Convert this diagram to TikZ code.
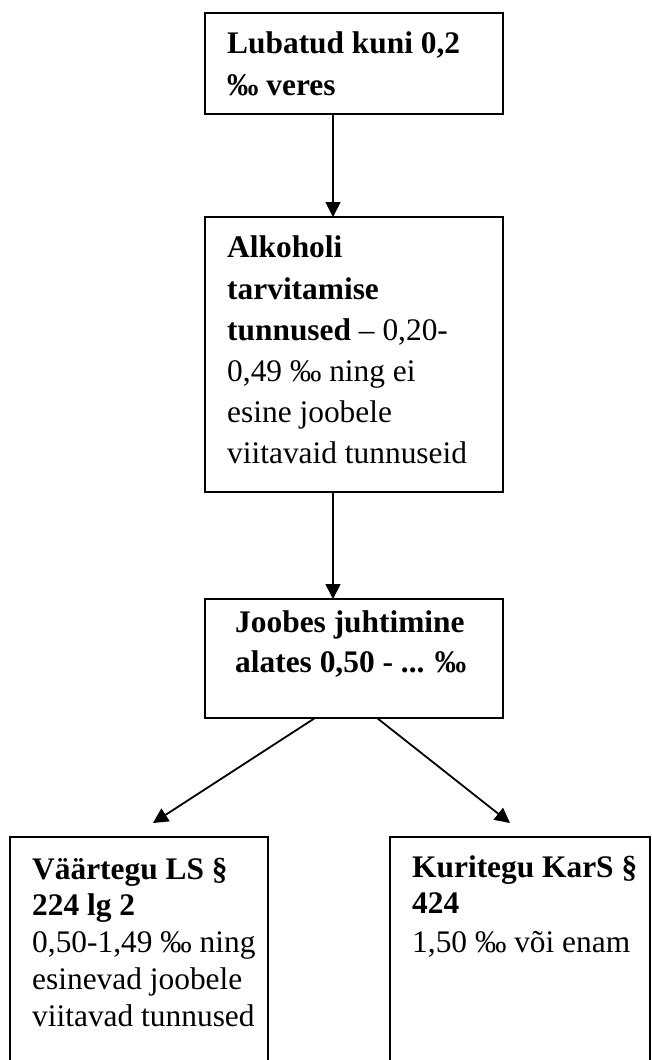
\documentclass[tikz,border=0pt]{standalone}
\usepackage{fontspec}
\setmainfont{Liberation Serif}
\usetikzlibrary{arrows.meta}
\begin{document}
\begin{tikzpicture}[x=1pt,y=1pt,
  box/.style={draw,line width=1.8pt,rectangle,inner sep=0pt,outer sep=0pt,anchor=north west},
  tl/.style={anchor=base west,inner sep=0pt,font=\fontsize{31.4}{36}\selectfont},
  arr/.style={line width=1.8pt,-{Triangle[length=15pt,width=15pt]}}]
\useasboundingbox (0,0) rectangle (652,-1060);
\fill[white] (0,0) rectangle (652,-1060);
\clip (0,0) rectangle (652,-1060);
% boxes
\node[box,minimum width=298pt,minimum height=101pt] (b1) at (205,-13) {};
\node[box,minimum width=298pt,minimum height=275pt] (b2) at (205,-217) {};
\node[box,minimum width=298pt,minimum height=119pt] (b3) at (205,-599) {};
\node[box,minimum width=258pt,minimum height=260pt] (b4) at (10,-837) {};
\node[box,minimum width=260pt,minimum height=260pt] (b5) at (390,-837) {};
% texts
\node[tl] (t1a) at (227,-53) {\textbf{Lubatud kuni 0,2}};
\node[tl] (t1b) at (227,-95) {\textbf{‰ veres}};
\node[tl] (t2a) at (227,-257) {\textbf{Alkoholi}};
\node[tl] (t2b) at (227,-299) {\textbf{tarvitamise}};
\node[tl] (t2c) at (227,-340) {\textbf{tunnused} – 0,20-};
\node[tl] (t2d) at (227,-381) {0,49 ‰ ning ei};
\node[tl] (t2e) at (227,-422) {esine joobele};
\node[tl] (t2f) at (227,-463) {viitavaid tunnuseid};
\node[tl] (t3a) at (235,-632) {\textbf{Joobes juhtimine}};
\node[tl] (t3b) at (235,-672) {\textbf{alates 0,50 - ... ‰}};
\node[tl] (t4a) at (32,-879) {\textbf{Väärtegu LS §}};
\node[tl] (t4b) at (32,-915) {\textbf{224 lg 2}};
\node[tl] (t4c) at (32,-952) {0,50-1,49 ‰ ning};
\node[tl] (t4d) at (32,-989) {esinevad joobele};
\node[tl] (t4e) at (32,-1026) {viitavad tunnused};
\node[tl] (t5a) at (412,-877) {\textbf{Kuritegu KarS §}};
\node[tl] (t5b) at (412,-913) {\textbf{424}};
\node[tl] (t5c) at (412,-952) {1,50 ‰ või enam};
% connectors
\draw[arr] ([xshift=128pt]b1.south west) -- ([xshift=128pt]b2.north west);
\draw[arr] ([xshift=128pt]b2.south west) -- ([xshift=128pt]b3.north west);
\draw[arr] ([xshift=110pt]b3.south west) -- ([xshift=143pt,yshift=14pt]b4.north west);
\draw[arr] ([xshift=172pt]b3.south west) -- ([xshift=120pt,yshift=14pt]b5.north west);
\end{tikzpicture}
\end{document}
